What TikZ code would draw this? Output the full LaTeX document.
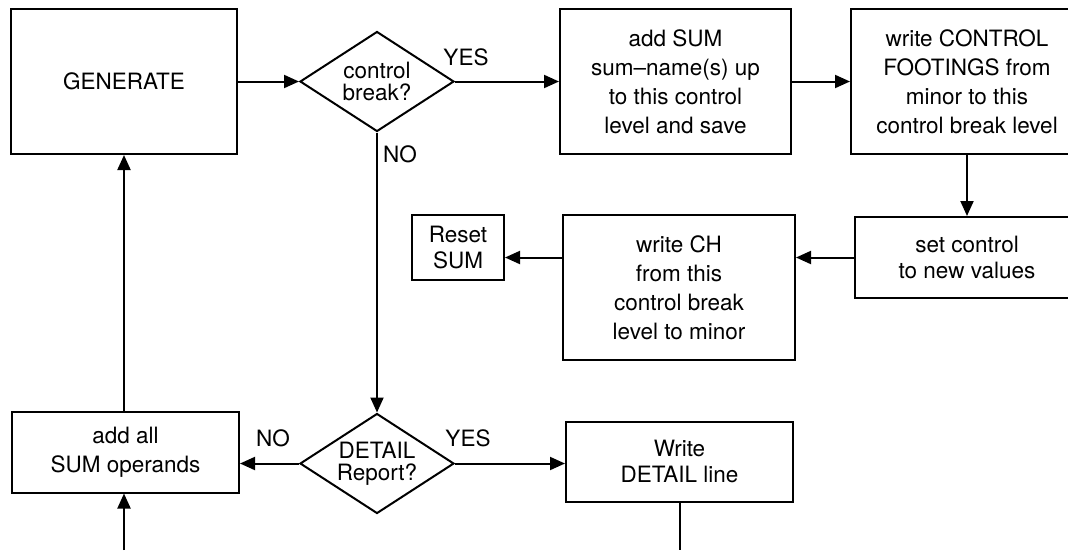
\documentclass[tikz,border=0pt]{standalone}
\usepackage{fontspec}
\setmainfont{TeX Gyre Heros}
\usetikzlibrary{shapes.geometric,positioning,arrows.meta}

\begin{document}
\begin{tikzpicture}[x=1pt,y=-1pt,line width=2pt,
      >={Triangle[length=15pt,width=13pt]},
      box/.style={draw,align=center,inner sep=2pt,font=\fontsize{22.5}{29}\selectfont},
      smallbox/.style={box,font=\fontsize{22.5}{26}\selectfont},
      test/.style={draw,diamond,aspect=1.54,inner sep=0pt,minimum width=154pt,
        minimum height=100pt,align=center,font=\fontsize{22.5}{22}\selectfont},
      answer/.style={inner sep=0pt,font=\fontsize{22.5}{22}\selectfont}]
    \useasboundingbox (0,0) rectangle (1068,550);
    \node (gen) [box,minimum width=226pt,minimum height=145pt] at (124,81.5) {GENERATE};
    \node (brk) [test,right=61pt of gen] {control\\break?};
    \node (sum) [box,minimum width=231pt,minimum height=145pt,right=104pt of brk]
      {add SUM\\sum--name(s) up\\to this control\\level and save};
    \node (foot) [box,minimum width=232pt,minimum height=145pt,right=58pt of sum]
      {write CONTROL\\FOOTINGS from\\minor to this\\control break level};
    \node (set) [smallbox,minimum width=224pt,minimum height=81pt,below=61pt of foot]
      {set control\\to new values};
    \node (head) [box,minimum width=232pt,minimum height=145pt,
      left=58pt of set.north west,anchor=north east,yshift=2pt]
      {write CH\\from this\\control break\\level to minor};
    \node (reset) [smallbox,minimum width=92pt,minimum height=65pt,
      left=57pt of head.north west,anchor=north east] {Reset\\SUM};
    \node (det) [test,below=280pt of brk] {DETAIL\\Report?};
    \node (all) [box,minimum width=227pt,minimum height=81pt,left=59pt of det,yshift=11.5pt]
      {add all\\SUM operands};
    \node (line) [smallbox,minimum width=227pt,minimum height=80pt,right=110pt of det,yshift=2pt]
      {Write\\DETAIL line};
    % answers
    \node (yes1) [answer] at (466,57.5) {YES};
    \node (no1) [answer] at (400,154) {NO};
    \node (no2) [answer] at (273,438) {NO};
    \node (yes2) [answer] at (468,438) {YES};
    % loose ends at the page edge
    \coordinate (back) at (gen.south |- 0,550);
    \coordinate (out) at (line.south |- 0,550);
    \path[->] (gen) edge (brk)
              (brk) edge (sum)
                    edge (det)
              (sum) edge (foot)
              (foot) edge (set)
              (set.west) edge (set.west -| head.east)
              (head.west |- set.west) edge (reset.east |- set.west)
              (det.west) edge (det.west -| all.east)
              (det.east) edge (det.east -| line.west)
              (gen.south |- all.north) edge (gen.south)
              (back) edge (gen.south |- all.south);
    \draw (line.south) -- (out);
  \end{tikzpicture}
\end{document}
